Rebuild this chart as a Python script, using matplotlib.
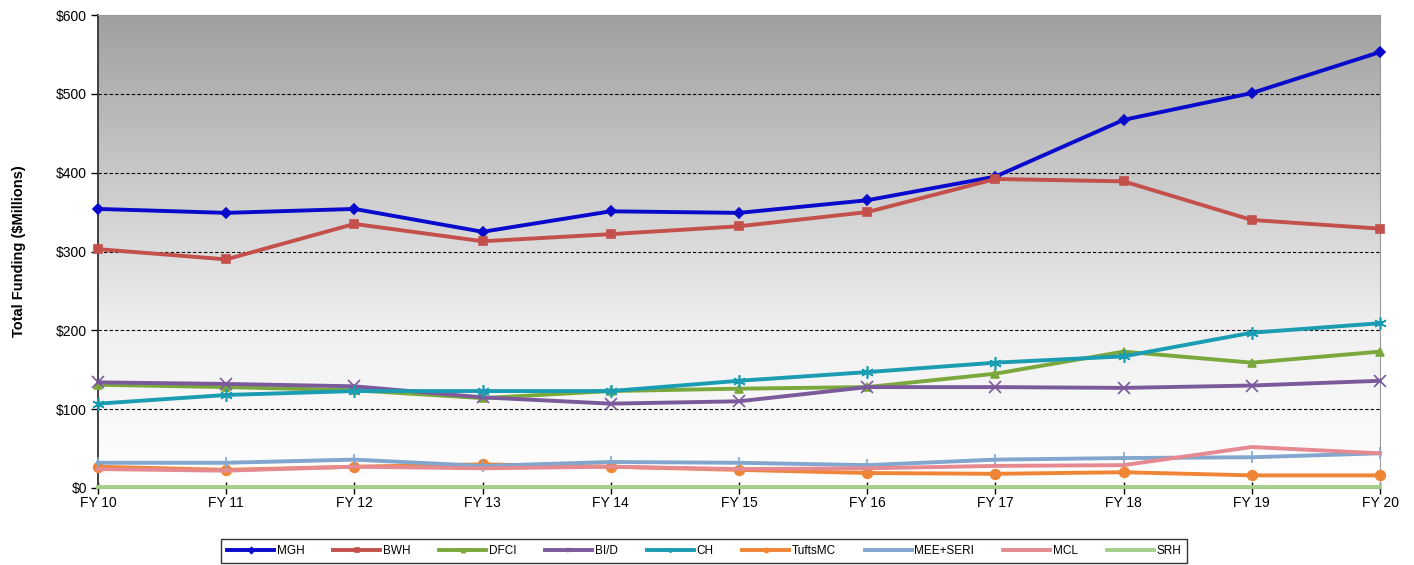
import matplotlib
matplotlib.use("Agg")
import matplotlib.pyplot as plt
import numpy as np
from matplotlib.colors import LinearSegmentedColormap

plt.rcParams['font.family'] = ['Liberation Sans', 'DejaVu Sans']

years = ["FY 10", "FY 11", "FY 12", "FY 13", "FY 14", "FY 15", "FY 16", "FY 17", "FY 18", "FY 19", "FY 20"]

mgh = [354, 349, 354, 325, 351, 349, 365, 395, 467, 501, 553]
bwh = [303, 290, 335, 313, 322, 332, 350, 392, 389, 340, 329]
dfci = [131, 128, 124, 114, 123, 126, 128, 145, 173, 159, 173]
bid = [134, 132, 129, 115, 107, 110, 128, 128, 127, 130, 136]
ch = [107, 118, 123, 123, 123, 136, 147, 159, 167, 197, 209]
tufts = [27, 23, 27, 30, 27, 23, 19, 18, 20, 16, 16]
mee = [32, 32, 36, 28, 33, 32, 29, 36, 38, 39, 44]
mcl = [24, 22, 27, 25, 27, 24, 25, 28, 29, 52, 44]
srh = [1, 1, 1, 1, 1, 1, 1, 1, 1, 1, 1]

names = ["MGH", "BWH", "DFCI", "BI/D", "CH", "TuftsMC", "MEE+SERI", "MCL", "SRH"]
series = [mgh, bwh, dfci, bid, ch, tufts, mee, mcl, srh]
colors = ["#0A0ACC", "#C4504C", "#7BA83C", "#7B5A9B", "#1A9CB2", "#F08536", "#82A6CE", "#E58A91", "#A5CF8A"]
markers = ["D", "s", "^", "x", (6, 2, 0), "o", "|", None, None]
msizes = [5, 6, 6, 8, 9, 7, 8, 0, 0]

fig = plt.figure(figsize=(14.14, 5.65), dpi=100)
ax = fig.add_axes([98/1414, 77/565, (1380-98)/1414, (488-15)/565])

# gradient background
cmap = LinearSegmentedColormap.from_list("bg", ["#FFFFFF", "#F0F0F0", "#C8C8C8", "#A0A0A0"])
grad = np.linspace(0, 1, 256).reshape(-1, 1)
ax.imshow(grad, aspect='auto', cmap=cmap, origin='lower', extent=[0, 1, 0, 1],
          transform=ax.transAxes, zorder=0)

x = np.arange(len(years))
for name, vals, c, m, ms in zip(names, series, colors, markers, msizes):
    ax.plot(x, vals, color=c, lw=2.8, marker=m, markersize=ms, markeredgewidth=1.2,
            markeredgecolor=c, markerfacecolor=c, label=name, zorder=3, clip_on=False)

ax.set_xlim(0, len(years) - 1)
ax.set_ylim(0, 600)
ax.set_yticks(range(0, 601, 100))
ax.set_yticklabels([f"${v}" for v in range(0, 601, 100)], fontsize=10)
ax.set_xticks(x)
ax.set_xticklabels(years, fontsize=10)
ax.tick_params(axis='x', direction='inout', length=8, width=1, pad=2)
ax.tick_params(axis='y', direction='out', length=5, width=1, pad=3)

for v in range(100, 600, 100):
    ax.axhline(v, color='black', lw=0.8, ls=(0, (3, 2)), zorder=1)

for s in ['left', 'bottom']:
    ax.spines[s].set_color('#333333')
    ax.spines[s].set_linewidth(1.3)
for s in ['top', 'right']:
    ax.spines[s].set_color('#999999')
    ax.spines[s].set_linewidth(0.8)

ax.set_ylabel("Total Funding ($Millions)", fontsize=10.5, fontweight='bold')
ax.yaxis.set_label_coords(-0.056, 0.5)

leg = fig.legend(loc='center', bbox_to_anchor=(704/1414, 0.025), ncol=9, fontsize=8.5,
                 frameon=True, fancybox=False, edgecolor='black', handlelength=4,
                 columnspacing=2.45, borderpad=0.5, handletextpad=0.2)
leg.get_frame().set_linewidth(1.0)
for h in leg.legend_handles:
    h.set_markersize(3)

fig.savefig("out.png", dpi=100)
